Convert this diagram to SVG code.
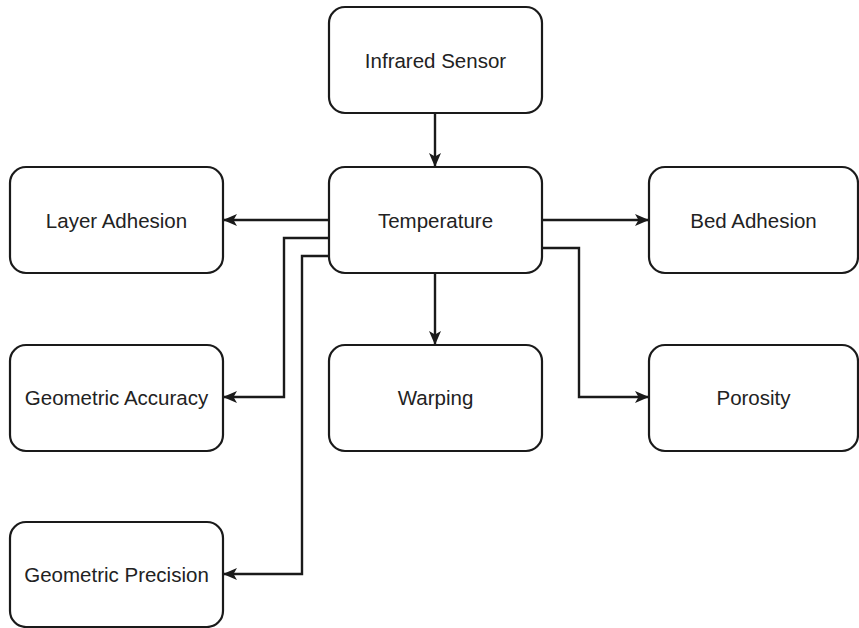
<svg xmlns="http://www.w3.org/2000/svg" width="859" height="628" viewBox="0 0 859 628">
<style>
.box{fill:#fff;stroke:#1a1a1a;stroke-width:2.2}
.lbl{font-family:"Liberation Sans",Arial,sans-serif;font-size:20.5px;fill:#222;text-anchor:middle;dominant-baseline:central}
.edge{fill:none;stroke:#1a1a1a;stroke-width:2.4;marker-end:url(#arr)}
</style>
<defs>
<marker id="arr" viewBox="0 0 14 12" refX="13" refY="6" markerWidth="14" markerHeight="12" markerUnits="userSpaceOnUse" orient="auto">
<path d="M0,0 L14,6 L0,12 L3.5,6 z" fill="#1a1a1a"/>
</marker>
</defs>
<rect width="859" height="628" fill="#fff"/>
<g id="connectors">
<path class="edge" d="M435,113 V166"/>
<path class="edge" d="M329,220 H224"/>
<path class="edge" d="M329,238 H284 V397 H224"/>
<path class="edge" d="M329,256 H302 V574 H224"/>
<path class="edge" d="M542,220 H648"/>
<path class="edge" d="M542,248 H579 V397 H648"/>
<path class="edge" d="M435,273 V344"/>
</g>
<g id="infrared-sensor"><rect class="box" x="329" y="7" width="213" height="106" rx="16"/><text class="lbl" x="435.5" y="60">Infrared Sensor</text></g>
<g id="temperature"><rect class="box" x="329" y="167" width="213" height="106" rx="16"/><text class="lbl" x="435.5" y="220">Temperature</text></g>
<g id="layer-adhesion"><rect class="box" x="10" y="167" width="213" height="106" rx="16"/><text class="lbl" x="116.5" y="220">Layer Adhesion</text></g>
<g id="bed-adhesion"><rect class="box" x="649" y="167" width="209" height="106" rx="16"/><text class="lbl" x="753.5" y="220">Bed Adhesion</text></g>
<g id="geometric-accuracy"><rect class="box" x="10" y="345" width="213" height="106" rx="16"/><text class="lbl" x="116.5" y="397">Geometric Accuracy</text></g>
<g id="warping"><rect class="box" x="329" y="345" width="213" height="106" rx="16"/><text class="lbl" x="435.5" y="397">Warping</text></g>
<g id="porosity"><rect class="box" x="649" y="345" width="209" height="106" rx="16"/><text class="lbl" x="753.5" y="397">Porosity</text></g>
<g id="geometric-precision"><rect class="box" x="10" y="522" width="213" height="105" rx="16"/><text class="lbl" x="116.5" y="574">Geometric Precision</text></g>
</svg>
